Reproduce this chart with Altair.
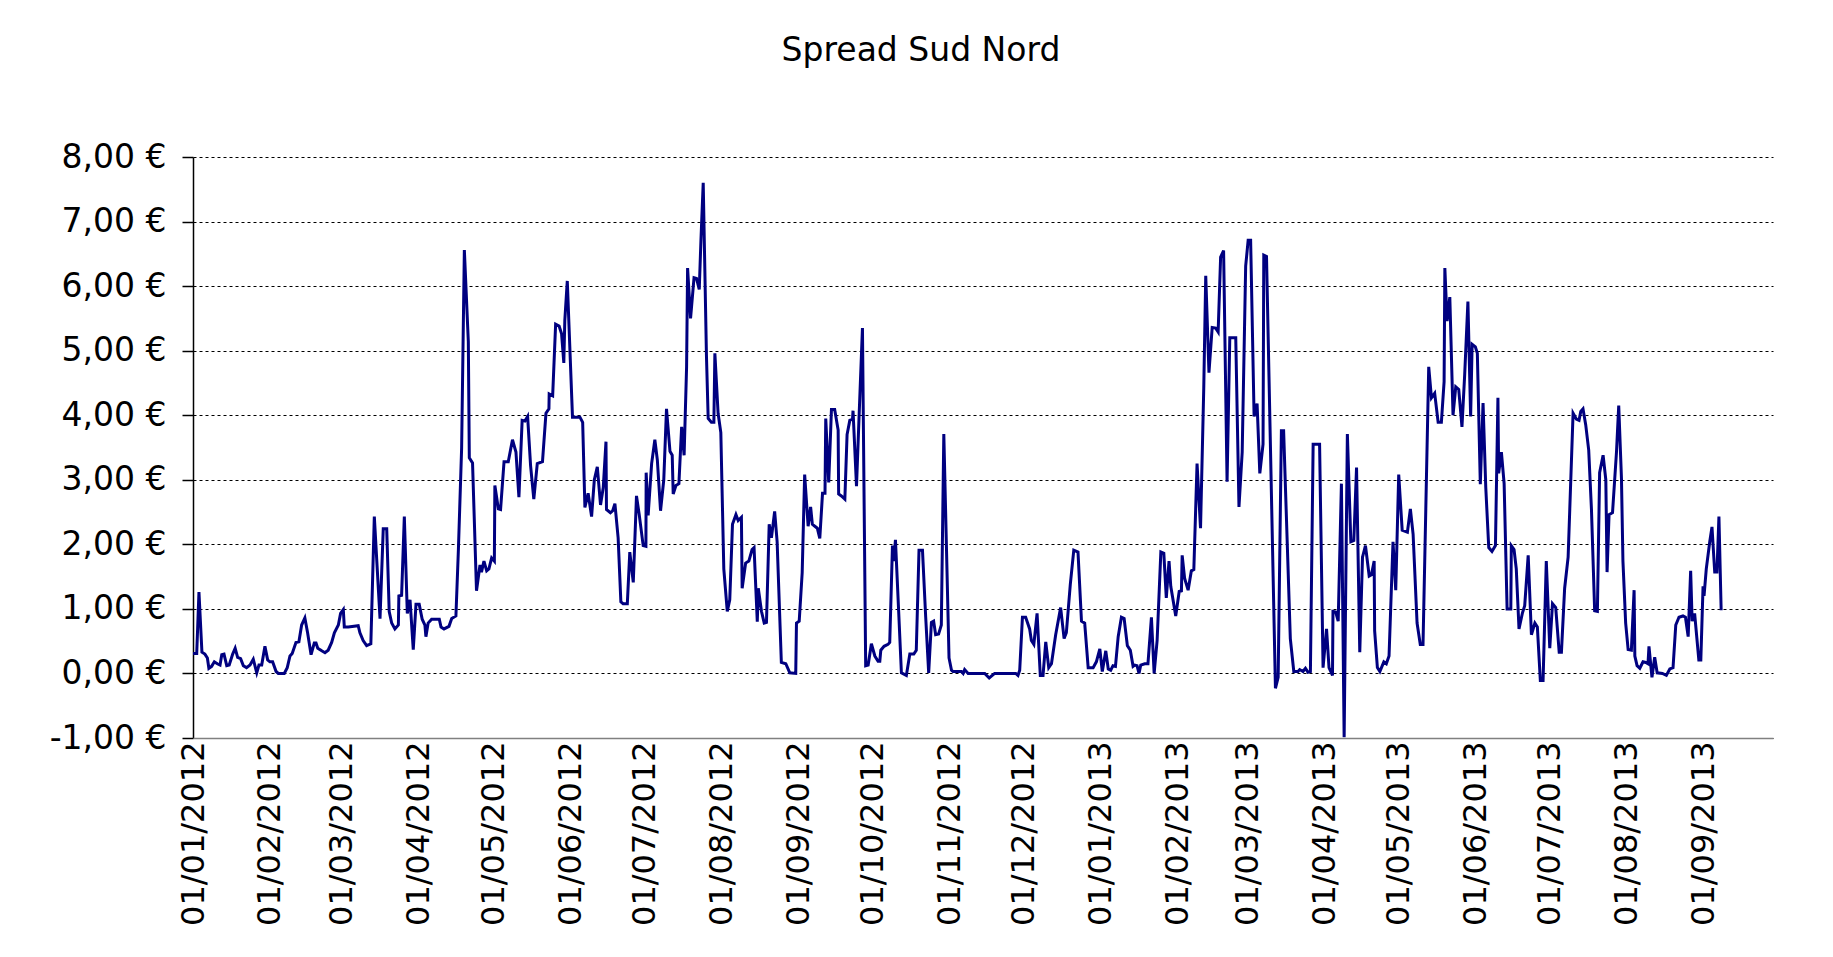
import altair as alt
import pandas as pd

# Days since 01/01/2012 and spread values in €
day_offset = [
    0.0, 1.5, 2.4, 3.6, 4.8, 5.8, 6.4, 7.5, 8.6, 9.8, 10.9, 11.6, 12.5, 13.6, 14.6, 16.0, 17.0, 18.0, 19.2, 20.3,
    21.6, 23.0, 24.3, 25.7, 26.6, 27.7, 29.0, 30.1, 31.0, 32.1, 33.5, 34.4, 36.8, 38.0, 39.1, 40.0, 41.5, 42.7, 43.8, 45.1,
    46.2, 47.6, 48.9, 49.6, 50.3, 51.9, 53.2, 54.5, 55.9, 57.0, 58.6, 59.5, 60.6, 61.0, 62.6, 66.6, 67.3, 68.6, 70.0, 71.7,
    73.1, 75.4, 76.7, 78.1, 79.1,
    80.1, 81.4, 82.8, 83.0, 84.1, 85.2, 86.4, 87.5, 88.8, 89.9, 91.2, 92.4, 93.5, 93.9, 94.8, 96.2, 99.3, 100.0, 101.2, 103.2,
    104.3, 106.0, 107.0, 108.3, 109.4, 111.0, 111.4, 112.7, 114.3, 115.7, 116.3, 117.3, 118.4, 119.3, 120.4, 121.5, 121.7, 123.1, 124.0, 125.4,
    127.1, 128.8, 130.2, 131.4, 132.7, 133.8, 134.9, 136.1, 137.4, 138.8, 140.9, 142.3, 143.5, 143.6, 145.0, 146.2, 147.6, 148.6, 149.5, 149.9,
    150.9,
    153.0, 156.0, 157.1, 158.0, 159.3, 160.7, 161.8, 163.0, 164.3, 165.4, 166.5, 166.7, 168.3, 169.2, 170.1, 171.4, 172.5, 173.4, 175.1, 176.1,
    177.5, 178.8, 179.9, 181.5, 182.6, 182.7, 183.5, 184.9, 186.2, 187.2, 188.5, 189.8, 190.9, 192.3, 193.2, 193.6, 194.7, 195.9, 197.0, 198.0,
    199.0, 199.4, 200.6, 202.0, 203.0, 204.1, 204.8, 205.7, 207.0, 207.7, 209.0, 210.0, 210.4, 211.7, 212.8, 214.0, 215.4, 216.4, 217.5, 218.9,
    219.8, 221.1, 221.4, 222.8, 224.1, 225.4, 226.2, 227.5, 227.9, 229.2, 230.3, 231.2, 232.3,
    233.2, 234.5, 235.5, 237.2, 239.0, 240.6, 243.0, 243.3, 244.4, 245.6, 246.6, 248.0, 249.0, 249.7, 250.7, 251.7, 252.7, 253.8, 254.8, 255.1,
    256.3, 257.4, 258.7, 260.1, 260.3, 261.4, 262.8, 263.7, 264.8, 265.9, 266.1, 267.5, 268.5, 269.9, 271.2, 272.2, 273.5, 274.9, 276.2, 276.9,
    277.3, 278.6, 280.2, 280.9, 282.0, 282.5, 283.2, 284.5, 285.6, 287.6, 289.0, 290.6, 291.6, 292.7, 294.1, 295.4, 296.6, 297.7, 298.6, 299.4,
    300.6, 301.7, 302.7, 304.8, 305.8,
    306.4, 309.8, 310.5, 311.1, 312.5, 319.2, 321.0, 323.2, 331.7, 332.6, 333.3, 334.4, 335.7, 337.3, 338.0, 339.0, 340.3, 341.6, 342.7, 343.8,
    345.0, 346.1, 347.8, 349.8, 351.2, 352.1, 353.7, 355.1, 356.8, 358.2, 359.5, 360.9, 362.9, 364.2, 365.6, 366.6, 368.0, 369.0, 370.0, 370.9,
    371.9, 373.0, 374.3, 375.4, 376.7, 377.9, 379.0, 379.7, 380.6, 381.4, 382.1, 383.7, 385.0,
    386.4, 387.5, 388.7, 390.2, 391.4, 392.4, 393.5, 394.2, 396.2, 397.6, 398.5, 398.8, 399.8, 401.2, 402.5, 403.5, 404.8, 406.2, 407.5, 408.3,
    409.6, 410.9, 412.3, 413.3, 414.3, 415.5, 416.9, 418.0, 420.4, 421.7, 423.0, 424.4, 425.4, 426.4, 427.8, 429.0, 430.1, 431.4, 431.7, 432.8,
    436.4, 437.5, 438.8, 439.7, 442.4, 443.8, 445.5, 446.2, 447.5, 448.5, 449.5, 450.5, 451.6, 454.2, 455.6, 457.0, 458.0, 459.4, 459.6, 460.7,
    461.7,
    463.0, 464.1, 465.4, 466.8, 468.0, 469.1, 470.4, 471.5, 472.7, 474.2, 475.1, 476.2, 476.4, 477.5, 478.5, 480.1, 481.1, 482.2, 483.8, 484.9,
    486.1, 487.5, 489.6, 490.8, 491.9, 493.5, 494.8, 495.9, 498.2, 499.3, 500.6, 502.0, 503.3, 504.4, 504.7, 505.6, 506.7, 508.0, 509.1, 510.3,
    511.6, 512.7, 514.0, 515.1, 515.7, 517.0, 517.8, 519.0, 520.1, 521.2, 522.4, 523.7, 525.1, 526.1, 526.4, 527.5, 528.6, 529.8, 531.3, 531.5,
    532.6, 533.5, 534.6,
    536.0, 536.9, 538.3, 539.6, 541.0, 542.0, 543.2, 544.3, 545.6, 547.0, 548.1, 549.4, 550.8, 551.7, 553.0, 554.4, 556.4, 557.7, 558.8, 559.5,
    560.4, 561.5, 562.7, 563.8, 565.1, 566.2, 567.1, 568.5, 569.6, 570.1, 570.9, 572.3, 573.9, 574.8, 575.9, 576.5, 577.6, 578.6, 579.9, 581.0,
    581.3, 582.2, 583.3, 584.6, 585.7, 586.6, 587.0, 588.2, 589.3, 590.3, 592.4, 594.0, 595.4, 596.7, 597.8, 599.1, 600.7, 601.7, 602.8, 603.8,
    604.4, 605.4, 607.1, 607.9, 608.8, 609.2, 610.1, 611.5, 612.4, 613.5, 614.4, 615.2, 616.1,
]

spread = [
    0.31, 0.31, 1.26, 0.33, 0.30, 0.24, 0.08, 0.11, 0.18, 0.15, 0.13, 0.29, 0.30, 0.12, 0.13, 0.30, 0.39, 0.25, 0.23, 0.12,
    0.09, 0.13, 0.22, 0.01, 0.13, 0.13, 0.42, 0.21, 0.18, 0.18, 0.03, 0.00, 0.00, 0.09, 0.27, 0.31, 0.48, 0.49, 0.75, 0.86,
    0.63, 0.29, 0.47, 0.47, 0.39, 0.35, 0.32, 0.36, 0.48, 0.63, 0.75, 0.93, 0.99, 0.72, 0.72, 0.74, 0.63, 0.51, 0.43, 0.46,
    2.43, 0.85, 2.24, 2.24, 0.96,
    0.78, 0.69, 0.75, 1.20, 1.21, 2.43, 0.93, 1.14, 0.37, 1.07, 1.07, 0.84, 0.75, 0.57, 0.78, 0.84, 0.84, 0.72, 0.69, 0.73,
    0.85, 0.89, 1.92, 3.49, 6.56, 5.14, 3.34, 3.26, 1.28, 1.68, 1.57, 1.74, 1.59, 1.62, 1.79, 1.74, 2.91, 2.55, 2.54, 3.28,
    3.28, 3.62, 3.43, 2.73, 3.92, 3.91, 3.98, 3.22, 2.70, 3.25, 3.28, 4.03, 4.10, 4.33, 4.30, 5.41, 5.38, 5.26, 4.81, 5.47,
    6.08,
    3.97, 3.97, 3.89, 2.57, 2.79, 2.43, 3.00, 3.20, 2.61, 2.88, 3.59, 2.54, 2.49, 2.52, 2.63, 2.10, 1.11, 1.08, 1.08, 1.88,
    1.41, 2.75, 2.46, 1.98, 1.97, 3.11, 2.45, 3.25, 3.62, 3.31, 2.52, 3.00, 4.10, 3.44, 3.38, 2.78, 2.91, 2.94, 3.82, 3.38,
    4.75, 6.28, 5.50, 6.13, 6.12, 5.95, 6.73, 7.60, 4.93, 3.95, 3.89, 3.89, 4.96, 4.03, 3.73, 1.62, 0.96, 1.14, 2.31, 2.46,
    2.37, 2.42, 1.32, 1.71, 1.74, 1.92, 1.95, 0.80, 1.32, 0.96, 0.78, 0.79, 2.31,
    2.10, 2.51, 2.04, 0.17, 0.15, 0.01, 0.00, 0.78, 0.81, 1.56, 3.08, 2.28, 2.58, 2.31, 2.28, 2.25, 2.09, 2.79, 2.79, 3.95,
    2.96, 4.09, 4.09, 3.77, 2.78, 2.75, 2.70, 3.70, 3.92, 3.94, 4.07, 2.90, 3.94, 5.35, 0.12, 0.13, 0.46, 0.27, 0.19, 0.19,
    0.36, 0.42, 0.45, 0.48, 1.98, 1.74, 2.07, 0.96, 0.01, -0.03, 0.30, 0.30, 0.36, 1.91, 1.91, 0.87, 0.01, 0.79, 0.81, 0.60,
    0.61, 0.75, 3.71, 0.24, 0.05,
    0.03, 0.03, 0.00, 0.06, 0.00, 0.00, -0.07, 0.00, 0.00, -0.03, 0.05, 0.87, 0.87, 0.69, 0.51, 0.45, 0.93, -0.03, -0.03, 0.49,
    0.09, 0.15, 0.60, 1.02, 0.54, 0.63, 1.38, 1.91, 1.88, 0.81, 0.78, 0.09, 0.09, 0.18, 0.38, 0.03, 0.35, 0.07, 0.05, 0.12,
    0.11, 0.57, 0.87, 0.85, 0.43, 0.36, 0.11, 0.13, 0.12, 0.00, 0.13, 0.15, 0.15,
    0.87, 0.00, 0.51, 1.88, 1.86, 1.17, 1.74, 1.35, 0.89, 1.27, 1.28, 1.83, 1.47, 1.29, 1.59, 1.61, 3.25, 2.25, 4.42, 6.16,
    4.66, 5.36, 5.35, 5.29, 6.45, 6.55, 2.97, 5.20, 5.20, 2.58, 3.43, 6.31, 6.71, 6.71, 3.98, 4.18, 3.10, 3.55, 6.48, 6.46,
    -0.23, -0.06, 3.76, 3.76, 0.54, 0.03, 0.03, 0.06, 0.03, 0.08, 0.02, 0.03, 3.55, 3.55, 0.09, 0.69, 0.09, -0.03, 0.96, 0.95,
    0.81,
    2.94, -0.99, 3.71, 2.04, 2.06, 3.19, 0.33, 1.80, 1.98, 1.51, 1.53, 1.74, 0.66, 0.09, 0.03, 0.18, 0.15, 0.27, 2.04, 1.29,
    3.08, 2.22, 2.19, 2.55, 2.16, 0.78, 0.45, 0.45, 4.75, 4.27, 4.34, 3.89, 3.89, 4.52, 6.28, 5.46, 5.83, 4.00, 4.44, 4.40,
    3.82, 4.63, 5.76, 3.98, 5.10, 5.06, 4.96, 2.93, 4.19, 2.88, 1.95, 1.89, 1.98, 4.27, 3.10, 3.43, 2.94, 1.00, 1.00, 1.98,
    1.92, 1.62, 0.69,
    0.94, 1.05, 1.83, 0.60, 0.78, 0.72, -0.11, -0.11, 1.74, 0.39, 1.08, 1.02, 0.33, 0.33, 1.32, 1.80, 4.03, 3.94, 3.92, 4.06,
    4.10, 3.85, 3.46, 2.55, 0.97, 0.96, 3.11, 3.38, 3.00, 1.57, 2.46, 2.49, 3.43, 4.15, 3.03, 1.74, 0.78, 0.37, 0.36, 1.29,
    0.27, 0.12, 0.08, 0.18, 0.17, 0.15, 0.42, -0.06, 0.25, 0.01, 0.00, -0.03, 0.07, 0.09, 0.75, 0.87, 0.89, 0.87, 0.57, 1.59,
    0.81, 0.93, 0.21, 0.21, 1.35, 1.20, 1.62, 2.04, 2.27, 1.57, 1.57, 2.43, 0.98,
]

y_ticks = [-1, 0, 1, 2, 3, 4, 5, 6, 7, 8]
title_text = "Spread Sud Nord"

dates = pd.Timestamp("2012-01-01") + pd.to_timedelta(day_offset, unit="D")
df = pd.DataFrame({"date": dates, "spread": spread})

FONT = "DejaVu Sans"

chart = (
    alt.Chart(df)
    .mark_line(color="#000080", strokeWidth=3, clip=True)
    .encode(
        x=alt.X(
            "date:T",
            scale=alt.Scale(
                domain=[alt.DateTime(year=2012, month=1, date=1),
                        alt.DateTime(year=2013, month=9, date=29)],
                nice=False,
            ),
            axis=alt.Axis(
                title=None,
                format="%d/%m/%Y",
                labelAngle=270,
                tickCount={"interval": "month", "step": 1},
                grid=False,
                ticks=False,
                domainColor="#808080",
                domainWidth=1.5,
                labelPadding=3,
                labelFont=FONT,
                labelFontSize=32,
                labelColor="black",
                labelOverlap=False,
                labelLimit=500,
                zindex=1,
            ),
        ),
        y=alt.Y(
            "spread:Q",
            scale=alt.Scale(domain=[-1, 8], nice=False, zero=False),
            axis=alt.Axis(
                title=None,
                values=y_ticks,
                labelExpr="(datum.value < 0 ? '-' : '') + replace(format(abs(datum.value), '.2f'), '.', ',') + ' €'",
                grid=True,
                gridColor="black",
                gridDash=[3, 3],
                gridWidth=1,
                domainColor="black",
                domainWidth=1.5,
                tickColor="black",
                tickSize=11,
                tickWidth=1.5,
                labelPadding=16,
                labelFont=FONT,
                labelFontSize=33,
                labelColor="black",
                labelLimit=500,
            ),
        ),
    )
    .properties(
        width=1580,
        height=581,
        autosize=alt.AutoSizeParams(type="none"),
        padding={"left": 185, "top": 149, "right": 52, "bottom": 211},
        title=alt.TitleParams(
            text=title_text,
            font=FONT,
            fontSize=33,
            fontWeight="normal",
            color="black",
            anchor="middle",
            frame="group",
            offset=73,
            dx=-62,
        ),
        background="white",
    )
    .configure_view(strokeWidth=0)
)

chart.save("out.html", embed_options={"renderer": "svg", "actions": False})
